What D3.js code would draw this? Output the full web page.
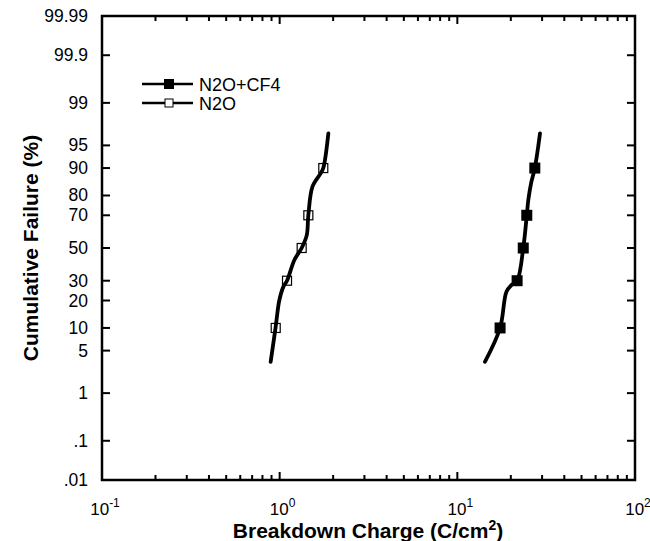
<!DOCTYPE html>
<html>
<head>
<meta charset="utf-8">
<script src="https://cdn.jsdelivr.net/npm/d3@7"></script>
<style>
  body { margin: 0; background: #fff; }
  svg { font-family: "Liberation Sans", Arial, Helvetica, sans-serif; }
</style>
</head>
<body>
<div id="chart"></div>
<script>
// cumulative failure (%) tick labels on the probability axis
const yTicks = [0.01, 0.1, 1, 5, 10, 20, 30, 50, 70, 80, 90, 95, 99, 99.9, 99.99];
const yTickLabels = [".01", ".1", "1", "5", "10", "20", "30", "50", "70", "80", "90", "95", "99", "99.9", "99.99"];
const xDecades = [0.1, 1, 10, 100];
const xDecadeExp = ["-1", "0", "1", "2"];

// N2O : traced curve (charge C/cm2, failure %) and plotted markers
const n2oCurveQ = [0.89, 0.95, 0.995, 1.05, 1.10, 1.21, 1.33, 1.42, 1.45, 1.53, 1.70, 1.76, 1.88];
const n2oCurveF = [3.4, 10.4, 20, 26.8, 30, 42.4, 50, 58, 70, 83.7, 88.4, 90, 96.7];
const n2oMarkQ = [0.95, 1.10, 1.33, 1.45, 1.76];
const n2oMarkF = [10, 30, 50, 70, 90];

// N2O+CF4
const cf4CurveQ = [14.3, 17.4, 18.9, 20.2, 21.7, 23.5, 24.6, 25.1, 26.0, 27.3, 29.2];
const cf4CurveF = [3.4, 10, 24.2, 27.7, 30, 50, 70, 78, 85, 90, 96.7];
const cf4MarkQ = [17.4, 21.7, 23.5, 24.6, 27.3];
const cf4MarkF = [10, 30, 50, 70, 90];

const width = 650, height = 541;
const margin = { left: 102, right: 15, top: 16, bottom: 61 };

// inverse normal cdf (Acklam)
function probit(p) {
  const a = [-39.69683028665376, 220.9460984245205, -275.9285104469687, 138.3577518672690, -30.66479806614716, 2.506628277459239];
  const b = [-54.47609879822406, 161.5858368580409, -155.6989798598866, 66.80131188771972, -13.28068155288572];
  const c = [-0.007784894002430293, -0.3223964580411365, -2.400758277161838, -2.549732539343734, 4.374664141464968, 2.938163982698783];
  const d = [0.007784695709041462, 0.3224671290700398, 2.445134137142996, 3.754408661907416];
  const pl = 0.02425;
  let q, r;
  if (p < pl) {
    q = Math.sqrt(-2 * Math.log(p));
    return (((((c[0]*q+c[1])*q+c[2])*q+c[3])*q+c[4])*q+c[5]) / ((((d[0]*q+d[1])*q+d[2])*q+d[3])*q+1);
  } else if (p <= 1 - pl) {
    q = p - 0.5; r = q * q;
    return (((((a[0]*r+a[1])*r+a[2])*r+a[3])*r+a[4])*r+a[5])*q / (((((b[0]*r+b[1])*r+b[2])*r+b[3])*r+b[4])*r+1);
  } else {
    q = Math.sqrt(-2 * Math.log(1 - p));
    return -(((((c[0]*q+c[1])*q+c[2])*q+c[3])*q+c[4])*q+c[5]) / ((((d[0]*q+d[1])*q+d[2])*q+d[3])*q+1);
  }
}
const z = (pct) => probit(pct / 100);

const svg = d3.select("#chart").append("svg")
  .attr("width", width).attr("height", height);

const x = d3.scaleLog().domain([0.1, 100]).range([margin.left, width - margin.right]);
const y = d3.scaleLinear().domain([z(0.01), z(99.99)]).range([height - margin.bottom, margin.top]);

const x0 = margin.left, x1 = width - margin.right;
const y0 = height - margin.bottom, y1 = margin.top;

// minor ticks on x
const minorX = [];
[0.1, 1, 10].forEach((dec) => { for (let k = 2; k <= 9; k++) minorX.push(dec * k); });

function drawTicks() {
  const g = svg.append("g").attr("stroke", "#000").attr("stroke-width", 2);
  xDecades.forEach((v) => {
    g.append("line").attr("x1", x(v)).attr("x2", x(v)).attr("y1", y0).attr("y2", y0 - 8);
    g.append("line").attr("x1", x(v)).attr("x2", x(v)).attr("y1", y1).attr("y2", y1 + 8);
  });
  minorX.forEach((v) => {
    g.append("line").attr("x1", x(v)).attr("x2", x(v)).attr("y1", y0).attr("y2", y0 - 5);
    g.append("line").attr("x1", x(v)).attr("x2", x(v)).attr("y1", y1).attr("y2", y1 + 5);
  });
  yTicks.forEach((v) => {
    g.append("line").attr("x1", x0).attr("x2", x0 + 8).attr("y1", y(z(v))).attr("y2", y(z(v)));
    g.append("line").attr("x1", x1).attr("x2", x1 - 8).attr("y1", y(z(v))).attr("y2", y(z(v)));
  });
}

function drawLabels() {
  yTicks.forEach((v, i) => {
    svg.append("text").attr("x", 88).attr("y", y(z(v)) + 6)
      .attr("text-anchor", "end").attr("font-size", 17.5).text(yTickLabels[i]);
  });
  xDecades.forEach((v, i) => {
    const t = svg.append("text").attr("x", x(v) + 3).attr("y", 515)
      .attr("text-anchor", "middle").attr("font-size", 17);
    t.append("tspan").text("10");
    t.append("tspan").attr("dy", -8).attr("font-size", 12).text(xDecadeExp[i]);
  });
  const xt = svg.append("text").attr("x", 368).attr("y", 538)
    .attr("text-anchor", "middle").attr("font-size", 21).attr("font-weight", "bold");
  xt.append("tspan").text("Breakdown Charge (C/cm");
  xt.append("tspan").attr("dy", -8).attr("font-size", 14).text("2");
  xt.append("tspan").attr("dy", 8).text(")");
  svg.append("text").attr("transform", `translate(38,${y(0)}) rotate(-90)`)
    .attr("text-anchor", "middle").attr("font-size", 21).attr("font-weight", "bold")
    .text("Cumulative Failure (%)");
}

const line = d3.line()
  .curve(d3.curveCatmullRom.alpha(0.5))
  .x((d) => x(d.q))
  .y((d) => y(z(d.f)));

function drawSeries(qs, fs, mq, mf, filled) {
  const pts = qs.map((q, i) => ({ q: q, f: fs[i] }));
  svg.append("path").datum(pts).attr("d", line)
    .attr("fill", "none").attr("stroke", "#000").attr("stroke-width", 3.8)
    .attr("stroke-linecap", "round");
  const s = filled ? 11 : 9;
  mq.forEach((q, i) => {
    svg.append("rect")
      .attr("x", x(q) - s / 2).attr("y", y(z(mf[i])) - s / 2)
      .attr("width", s).attr("height", s)
      .attr("fill", filled ? "#000" : "#fff")
      .attr("fill-opacity", filled ? 1 : 0)
      .attr("stroke", "#000").attr("stroke-width", filled ? 0 : 1.2);
  });
}

function drawLegend() {
  const items = [
    { name: "N2O+CF4", filled: true, yy: 84 },
    { name: "N2O", filled: false, yy: 103 }
  ];
  items.forEach((it) => {
    svg.append("line").attr("x1", 142).attr("x2", 193).attr("y1", it.yy).attr("y2", it.yy)
      .attr("stroke", "#000").attr("stroke-width", 2.5);
    const s = it.filled ? 10 : 8;
    svg.append("rect").attr("x", 169 - s / 2).attr("y", it.yy - s / 2)
      .attr("width", s).attr("height", s)
      .attr("fill", it.filled ? "#000" : "#fff")
      .attr("stroke", "#000").attr("stroke-width", it.filled ? 0 : 1);
    svg.append("text").attr("x", 199).attr("y", it.yy + 6.5)
      .attr("font-size", 18).text(it.name);
  });
}

drawSeries(n2oCurveQ, n2oCurveF, n2oMarkQ, n2oMarkF, false);
drawSeries(cf4CurveQ, cf4CurveF, cf4MarkQ, cf4MarkF, true);
drawTicks();
svg.append("rect").attr("x", x0).attr("y", y1).attr("width", x1 - x0).attr("height", y0 - y1)
  .attr("fill", "none").attr("stroke", "#000").attr("stroke-width", 2.5);
drawLabels();
drawLegend();
</script>
</body>
</html>
